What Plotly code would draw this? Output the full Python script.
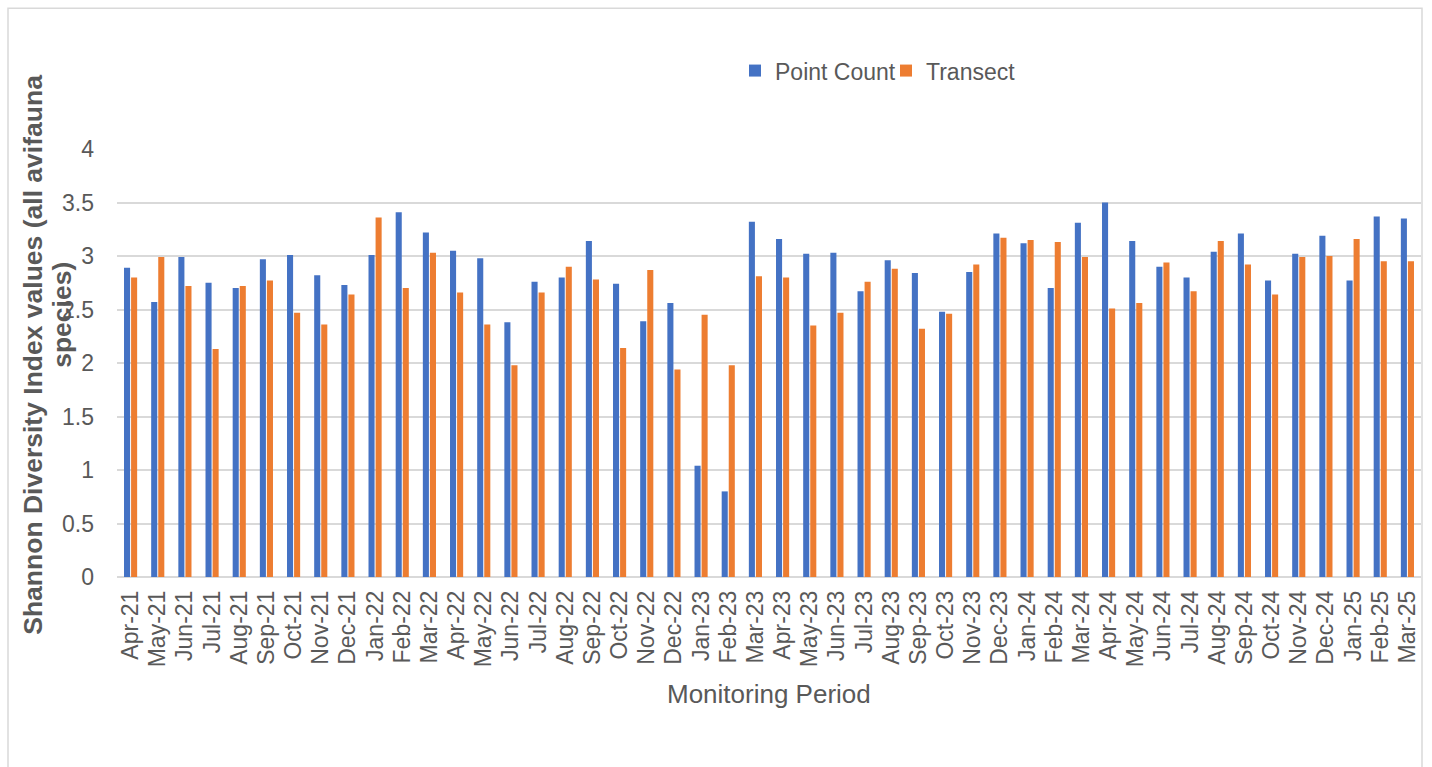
import plotly.graph_objects as go

# Monitoring months (Apr 2021 - Mar 2025)
months = [
    "Apr-21", "May-21", "Jun-21", "Jul-21", "Aug-21", "Sep-21", "Oct-21", "Nov-21",
    "Dec-21", "Jan-22", "Feb-22", "Mar-22", "Apr-22", "May-22", "Jun-22", "Jul-22",
    "Aug-22", "Sep-22", "Oct-22", "Nov-22", "Dec-22", "Jan-23", "Feb-23", "Mar-23",
    "Apr-23", "May-23", "Jun-23", "Jul-23", "Aug-23", "Sep-23", "Oct-23", "Nov-23",
    "Dec-23", "Jan-24", "Feb-24", "Mar-24", "Apr-24", "May-24", "Jun-24", "Jul-24",
    "Aug-24", "Sep-24", "Oct-24", "Nov-24", "Dec-24", "Jan-25", "Feb-25", "Mar-25",
]

# Shannon diversity index per survey method
point_count = [
    2.89, 2.57, 2.99, 2.75, 2.70, 2.97, 3.01, 2.82, 2.73, 3.01, 3.41, 3.22,
    3.05, 2.98, 2.38, 2.76, 2.80, 3.14, 2.74, 2.39, 2.56, 1.04, 0.80, 3.32,
    3.16, 3.02, 3.03, 2.67, 2.96, 2.84, 2.48, 2.85, 3.21, 3.12, 2.70, 3.31,
    3.50, 3.14, 2.90, 2.80, 3.04, 3.21, 2.77, 3.02, 3.19, 2.77, 3.37, 3.35,
]
transect = [
    2.80, 2.99, 2.72, 2.13, 2.72, 2.77, 2.47, 2.36, 2.64, 3.36, 2.70, 3.03,
    2.66, 2.36, 1.98, 2.66, 2.90, 2.78, 2.14, 2.87, 1.94, 2.45, 1.98, 2.81,
    2.80, 2.35, 2.47, 2.76, 2.88, 2.32, 2.46, 2.92, 3.17, 3.15, 3.13, 2.99,
    2.51, 2.56, 2.94, 2.67, 3.14, 2.92, 2.64, 2.99, 3.00, 3.16, 2.95, 2.95,
]

y_ticks = [0, 0.5, 1, 1.5, 2, 2.5, 3, 3.5, 4]
y_tick_text = ["0", "0.5", "1", "1.5", "2", "2.5", "3", "3.5", "4"]

FONT = "Liberation Sans, Arial, sans-serif"
TEXT = "#595959"
GRID = "#D9D9D9"

W, H = 1432, 767
L, R, T, B = 117, 11, 149, 189.5
PW = W - L - R
PH = H - T - B


def px_x(x):
    return (x - L) / PW


def px_y(y):
    return (H - B - y) / PH


fig = go.Figure()
fig.add_trace(go.Bar(x=months, y=point_count, name="Point Count",
                     marker=dict(color="#4472C4", line=dict(width=0))))
fig.add_trace(go.Bar(x=months, y=transect, name="Transect",
                     marker=dict(color="#ED7D31", line=dict(width=0))))

fig.update_layout(
    width=W, height=H,
    margin=dict(l=L, r=R, t=T, b=B, pad=0),
    paper_bgcolor="white", plot_bgcolor="white",
    barmode="group", bargap=0.48, bargroupgap=0.14,
    font=dict(family=FONT, color=TEXT, size=23),
    showlegend=True,
    legend=dict(
        orientation="h", x=px_x(735), y=px_y(49), xanchor="left", yanchor="top",
        font=dict(family=FONT, size=23, color=TEXT),
        bgcolor="rgba(0,0,0,0)", itemclick=False, traceorder="normal",
        entrywidth=106, entrywidthmode="pixels",
    ),
    xaxis=dict(
        type="category", tickmode="array", tickvals=months, ticktext=months,
        tickangle=-90, showgrid=False, showline=False,
        ticks="", ticklabelstandoff=8,
        tickfont=dict(family=FONT, size=23, color=TEXT),
    ),
    yaxis=dict(
        range=[0, 4], tickvals=y_ticks, ticktext=y_tick_text,
        showgrid=True, gridcolor=GRID, gridwidth=1.5,
        zeroline=True, zerolinecolor=GRID, zerolinewidth=1.5,
        showline=False, ticks="", ticklabelstandoff=22,
        tickfont=dict(family=FONT, size=23, color=TEXT),
    ),
    shapes=[
        dict(type="rect", xref="paper", yref="paper",
             x0=px_x(8), x1=px_x(1422), y0=px_y(800), y1=px_y(8),
             line=dict(color=GRID, width=1.5), fillcolor="rgba(0,0,0,0)",
             layer="below"),
    ],
    annotations=[
        dict(text="Monitoring Period", xref="paper", yref="paper",
             x=px_x(769), y=px_y(695), xanchor="center", yanchor="middle",
             showarrow=False, font=dict(family=FONT, size=26, color=TEXT)),
        dict(text="<b>Shannon Diversity Index values (all avifauna</b>",
             xref="paper", yref="paper", x=px_x(33), y=px_y(355),
             xanchor="center", yanchor="middle", textangle=-90,
             showarrow=False, font=dict(family=FONT, size=26.5, color=TEXT)),
        dict(text="<b>species)</b>",
             xref="paper", yref="paper", x=px_x(62), y=px_y(315),
             xanchor="center", yanchor="middle", textangle=-90,
             showarrow=False, font=dict(family=FONT, size=26.5, color=TEXT)),
    ],
)

fig.write_html("out.html")
